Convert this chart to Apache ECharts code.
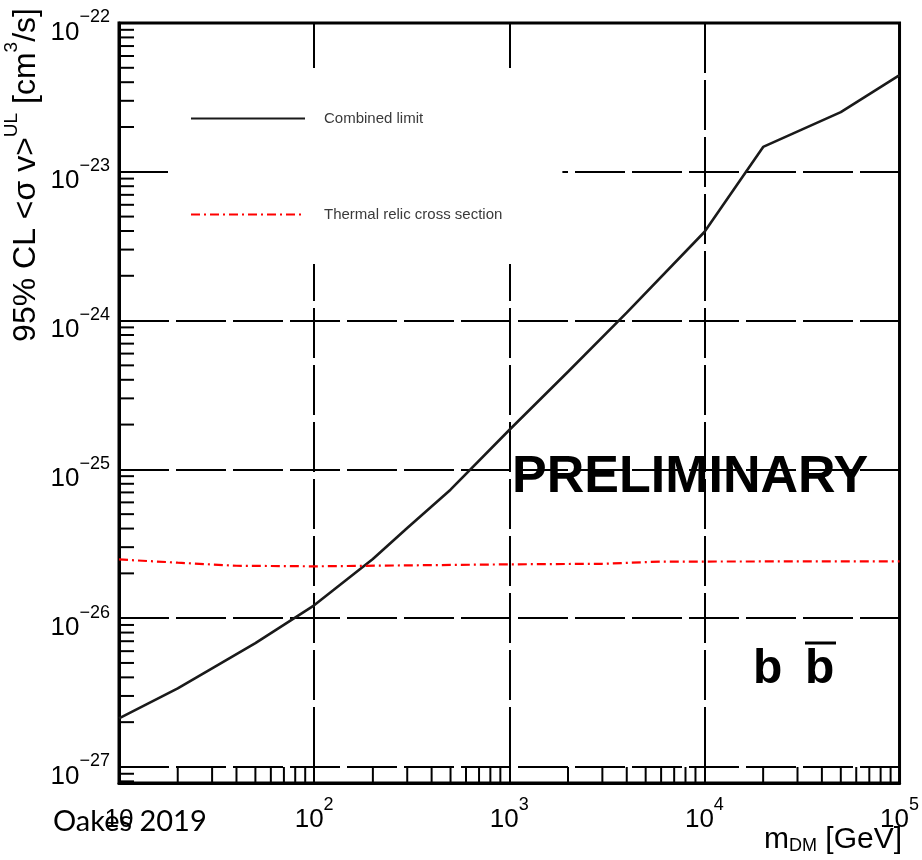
<!DOCTYPE html>
<html>
<head>
<meta charset="utf-8">
<script src="https://cdn.jsdelivr.net/npm/echarts@6/dist/echarts.min.js"></script>
<style>
html,body{margin:0;padding:0;background:#fff;}
#chart{width:922px;height:860px;}
</style>
</head>
<body>
<div id="chart"></div>
<script>
// ---- data (cm^3/s) ----
const massLimit = [10, 20, 30, 50, 100, 200, 300, 500, 1000, 2000, 4000, 10000, 20000, 50000, 100000];
const combinedLimit = [2.12e-27, 3.37e-27, 4.6e-27, 6.8e-27, 1.22e-26, 2.5e-26, 4.04e-26, 7.3e-26, 1.84e-25, 4.53e-25, 1.13e-24, 3.94e-24, 1.47e-23, 2.52e-23, 4.47e-23];
const massRelic = [10, 20, 40, 100, 1000, 3000, 6000, 100000];
const thermalRelic = [2.48e-26, 2.36e-26, 2.25e-26, 2.23e-26, 2.30e-26, 2.32e-26, 2.40e-26, 2.41e-26];
const seriesNames = ['Combined limit', 'Thermal relic cross section'];
const xRange = [10, 1e5];
const yRange = [7.8e-28, 1e-22];
const xDecades = [10, 100, 1000, 10000];
const yDecades = [1e-28, 1e-27, 1e-26, 1e-25, 1e-24, 1e-23];
const minorMultipliers = [2, 3, 4, 5, 6, 7, 8, 9];
const yTitle = '{t|95% CL <\u03c3 v>}{s|UL}{t| [cm}{s|3}{t|/s]}';
const xTitle = '{m|m}{d|DM}{g| [GeV]}';
const watermark = 'PRELIMINARY';
const channel = 'b';
const credit = 'Oakes 2019';

// the log axis works in units of 1e-27 cm^3/s (tiny raw limits break the scale)
const Y_UNIT_EXP = -27;
const Y_UNIT = Math.pow(10, Y_UNIT_EXP);
const toU = v => v / Y_UNIT;

// minor tick positions (axis structure)
const xMinor = [];
xDecades.forEach(d => minorMultipliers.forEach(k => xMinor.push(d * k)));
const yMinor = [];
yDecades.forEach(d => minorMultipliers.forEach(k => {
  const v = d * k;
  if (v >= yRange[0] * 0.999 && v <= yRange[1]) yMinor.push(v);
}));

const FONT = 'Liberation Sans, Arial, sans-serif';

function expLabel(e) {
  if (e === 1) return '{b|10}';
  return '{b|10}{e|' + (e < 0 ? '\u2212' + (-e) : String(e)) + '}';
}
function xLabel(v) {
  const l = Math.log10(v), e = Math.round(l);
  if (Math.abs(l - e) > 1e-6) return '';
  return expLabel(e);
}
function yLabel(v) {
  const l = Math.log10(v), e = Math.round(l);
  if (Math.abs(l - e) > 1e-6) return '';
  return expLabel(e + Y_UNIT_EXP);
}
const labelRich = {
  b: {fontSize: 26, fontFamily: FONT, color: '#000', lineHeight: 37, verticalAlign: 'bottom'},
  e: {fontSize: 18, fontFamily: FONT, color: '#000', lineHeight: 18, verticalAlign: 'top'}
};

const chart = echarts.init(document.getElementById('chart'), null, {renderer: 'canvas'});

const option = {
  animation: false,
  backgroundColor: '#fff',
  grid: {
    left: 119, top: 23, width: 781, height: 760,
    show: true, borderColor: '#000', borderWidth: 3, backgroundColor: 'transparent'
  },
  legend: {
    data: seriesNames,
    orient: 'vertical',
    left: 168, top: 68,
    padding: [43, 60, 42, 22],
    itemWidth: 114, itemHeight: 14, itemGap: 81,
    backgroundColor: '#fff',
    selectedMode: false,
    itemStyle: {opacity: 0},
    textStyle: {fontSize: 15, fontFamily: FONT, color: '#3a3a3a', padding: [0, 0, 0, 14]}
  },
  xAxis: {
    type: 'log', logBase: 10, min: xRange[0], max: xRange[1],
    axisLine: {show: true, lineStyle: {color: '#000', width: 3}},
    axisTick: {show: true, inside: true, length: 30, lineStyle: {color: '#000', width: 2}},
    axisLabel: {margin: 13, formatter: xLabel, rich: labelRich},
    splitLine: {show: true, lineStyle: {color: '#000', width: 2, type: [50, 7]}}
  },
  yAxis: {
    type: 'log', logBase: 10, min: toU(yRange[0]), max: toU(yRange[1]),
    axisLine: {show: true, lineStyle: {color: '#000', width: 3}},
    axisTick: {show: true, inside: true, length: 30, lineStyle: {color: '#000', width: 2}},
    axisLabel: {margin: 9, formatter: yLabel, rich: labelRich, padding: [8, 0, 0, 0]},
    splitLine: {show: true, lineStyle: {color: '#000', width: 2, type: [50, 7]}}
  },
  series: [
    {
      name: seriesNames[0], type: 'line', symbol: 'none', showSymbol: false,
      data: massLimit.map((m, i) => [m, toU(combinedLimit[i])]),
      lineStyle: {color: '#1a1a1a', width: 2.6},
      itemStyle: {color: '#1a1a1a'},
      z: 3
    },
    {
      name: seriesNames[1], type: 'line', symbol: 'none', showSymbol: false,
      data: massRelic.map((m, i) => [m, toU(thermalRelic[i])]),
      lineStyle: {color: '#ff0000', width: 2.2, type: [9, 4, 2, 4]},
      itemStyle: {color: '#ff0000'},
      z: 3
    },
    {
      name: 'xMinorTicks', type: 'custom', coordinateSystem: 'cartesian2d', silent: true, clip: false,
      data: xMinor.map(v => [v, toU(yRange[0])]),
      renderItem: (params, api) => {
        const p = api.coord([api.value(0), api.value(1)]);
        return {type: 'line', shape: {x1: p[0], y1: p[1], x2: p[0], y2: p[1] - 16},
                style: {stroke: '#000', lineWidth: 2}};
      },
      z: 4
    },
    {
      name: 'yMinorTicks', type: 'custom', coordinateSystem: 'cartesian2d', silent: true, clip: false,
      data: yMinor.map(v => [xRange[0], toU(v)]),
      renderItem: (params, api) => {
        const p = api.coord([api.value(0), api.value(1)]);
        return {type: 'line', shape: {x1: p[0], y1: p[1], x2: p[0] + 15, y2: p[1]},
                style: {stroke: '#000', lineWidth: 2}};
      },
      z: 4
    }
  ],
  graphic: [
    {
      type: 'text', x: 22, y: 175, rotation: Math.PI / 2, z: 10,
      style: {
        text: yTitle, x: 0, y: 0, align: 'center', verticalAlign: 'middle',
        rich: {
          t: {fontSize: 32, fontFamily: FONT, fill: '#000', color: '#000', lineHeight: 40, verticalAlign: 'bottom'},
          s: {fontSize: 19, fontFamily: FONT, fill: '#000', color: '#000', lineHeight: 19, verticalAlign: 'top'}
        }
      }
    },
    {
      type: 'text', x: 902, y: 825, z: 10,
      style: {
        text: xTitle, x: 0, y: 0, align: 'right', verticalAlign: 'top',
        rich: {
          m: {fontSize: 30, fontFamily: FONT, fill: '#000', color: '#000', lineHeight: 30, verticalAlign: 'top'},
          d: {fontSize: 18, fontFamily: FONT, fill: '#000', color: '#000', lineHeight: 18, verticalAlign: 'bottom'},
          g: {fontSize: 30, fontFamily: FONT, fill: '#000', color: '#000', lineHeight: 30, verticalAlign: 'top'}
        }
      }
    },
    {
      type: 'text', x: 512, y: 478, z: 10,
      style: {text: watermark, fill: '#000', font: 'bold 52px ' + FONT, align: 'left', verticalAlign: 'middle'}
    },
    {
      type: 'text', x: 753, y: 670, z: 10,
      style: {text: channel, fill: '#000', font: 'bold 48px ' + FONT, align: 'left', verticalAlign: 'middle'}
    },
    {
      type: 'text', x: 805, y: 670, z: 10,
      style: {text: channel, fill: '#000', font: 'bold 48px ' + FONT, align: 'left', verticalAlign: 'middle'}
    },
    {
      type: 'line', z: 10,
      shape: {x1: 805, y1: 643, x2: 836, y2: 643},
      style: {stroke: '#000', lineWidth: 3}
    },
    {
      type: 'text', x: 53, y: 822, z: 10,
      style: {text: credit, fill: '#000', font: '29px Lato, "Open Sans", sans-serif', align: 'left', verticalAlign: 'middle'}
    }
  ]
};
chart.setOption(option);
</script>
</body>
</html>
